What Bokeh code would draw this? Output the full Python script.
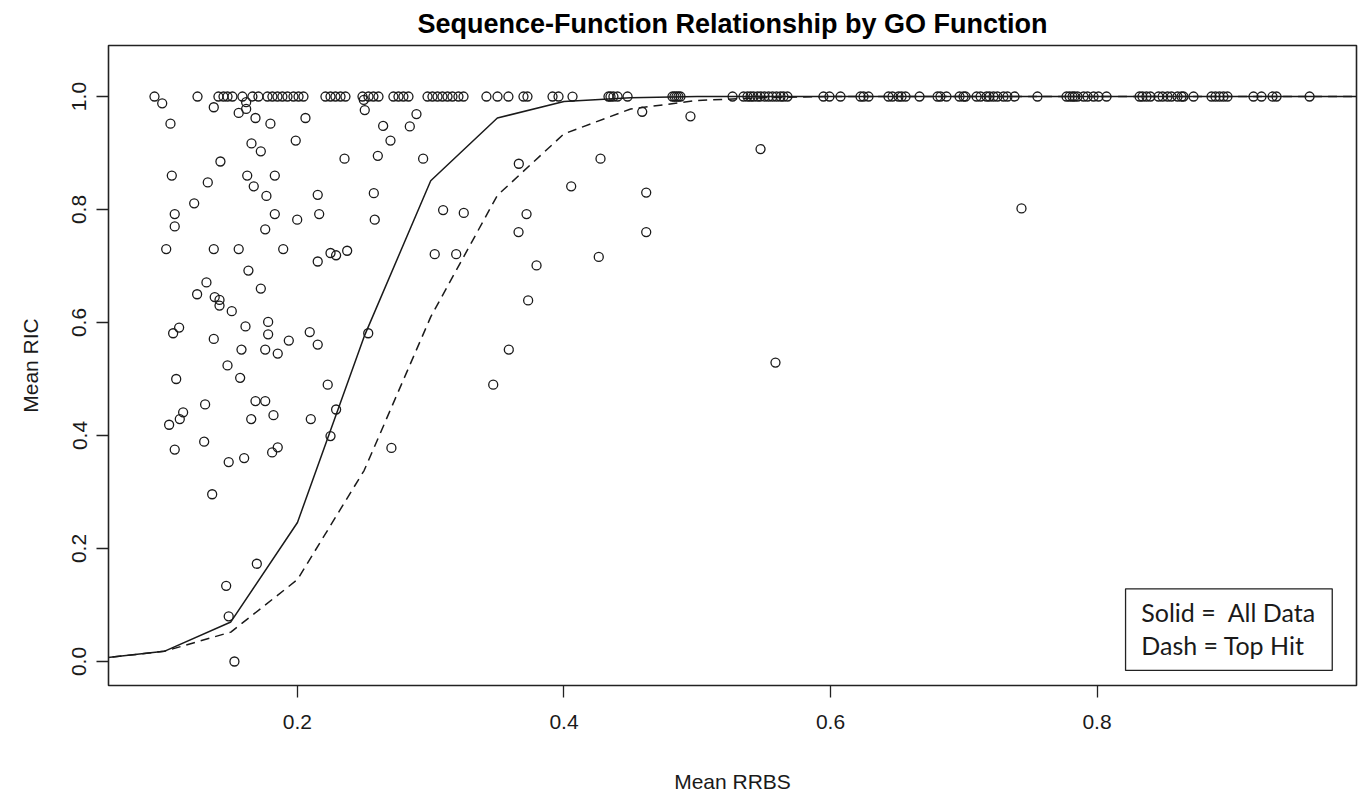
from bokeh.plotting import figure
from bokeh.models import Range1d, Label, BoxAnnotation, FixedTicker, PrintfTickFormatter
from bokeh.embed import file_html
from bokeh.resources import INLINE

# ---- data ----
# points sitting on Mean RIC = 1.0
top_rrbs = [0.0927, 0.1250, 0.1407, 0.1445, 0.1475, 0.1512, 0.1587, 0.1662, 0.1707, 0.1775,
            0.1812, 0.1850, 0.1887, 0.1925, 0.1970, 0.2008, 0.2045, 0.2210, 0.2248, 0.2285,
            0.2323, 0.2360, 0.2488, 0.2533, 0.2570, 0.2608, 0.2720, 0.2758, 0.2795, 0.2833,
            0.2976, 0.3013, 0.3051, 0.3088, 0.3126, 0.3163, 0.3208, 0.3246, 0.3418, 0.3501,
            0.3583, 0.3696, 0.3726, 0.3914, 0.3959, 0.4064, 0.4334, 0.4349, 0.4371, 0.4402,
            0.4477, 0.4814, 0.4829, 0.4844, 0.4859, 0.4874, 0.5265, 0.5347, 0.5377, 0.5400,
            0.5422, 0.5452, 0.5475, 0.5505, 0.5535, 0.5565, 0.5595, 0.5625, 0.5647, 0.5677,
            0.5947, 0.5992, 0.6075, 0.6225, 0.6248, 0.6285, 0.6435, 0.6465, 0.6510, 0.6533,
            0.6563, 0.6668, 0.6803, 0.6825, 0.6870, 0.6968, 0.6998, 0.7013, 0.7096, 0.7126,
            0.7171, 0.7193, 0.7223, 0.7253, 0.7298, 0.7328, 0.7381, 0.7553, 0.7771, 0.7794,
            0.7816, 0.7831, 0.7854, 0.7899, 0.7929, 0.7974, 0.8011, 0.8071, 0.8319, 0.8341,
            0.8371, 0.8401, 0.8461, 0.8492, 0.8529, 0.8559, 0.8604, 0.8634, 0.8649, 0.8724,
            0.8859, 0.8889, 0.8919, 0.8949, 0.8979, 0.9174, 0.9234, 0.9317, 0.9347, 0.9595]
top_ric = [1.0, 1.0, 1.0, 1.0, 1.0, 1.0, 1.0, 1.0, 1.0, 1.0,
           1.0, 1.0, 1.0, 1.0, 1.0, 1.0, 1.0, 1.0, 1.0, 1.0,
           1.0, 1.0, 1.0, 1.0, 1.0, 1.0, 1.0, 1.0, 1.0, 1.0,
           1.0, 1.0, 1.0, 1.0, 1.0, 1.0, 1.0, 1.0, 1.0, 1.0,
           1.0, 1.0, 1.0, 1.0, 1.0, 1.0, 1.0, 1.0, 1.0, 1.0,
           1.0, 1.0, 1.0, 1.0, 1.0, 1.0, 1.0, 1.0, 1.0, 1.0,
           1.0, 1.0, 1.0, 1.0, 1.0, 1.0, 1.0, 1.0, 1.0, 1.0,
           1.0, 1.0, 1.0, 1.0, 1.0, 1.0, 1.0, 1.0, 1.0, 1.0,
           1.0, 1.0, 1.0, 1.0, 1.0, 1.0, 1.0, 1.0, 1.0, 1.0,
           1.0, 1.0, 1.0, 1.0, 1.0, 1.0, 1.0, 1.0, 1.0, 1.0,
           1.0, 1.0, 1.0, 1.0, 1.0, 1.0, 1.0, 1.0, 1.0, 1.0,
           1.0, 1.0, 1.0, 1.0, 1.0, 1.0, 1.0, 1.0, 1.0, 1.0,
           1.0, 1.0, 1.0, 1.0, 1.0, 1.0, 1.0, 1.0, 1.0, 1.0]

# remaining points
other_rrbs = [0.0985, 0.1372, 0.1559, 0.1615, 0.1615, 0.1685, 0.1797, 0.2060, 0.1047, 0.2505,
              0.2498, 0.2643, 0.2698, 0.2603, 0.2353, 0.1987, 0.1655, 0.1725, 0.1422, 0.1057,
              0.1327, 0.1623, 0.1830, 0.1672, 0.1767, 0.2152, 0.2573, 0.1225, 0.1079, 0.1079,
              0.1830, 0.1998, 0.2163, 0.2580, 0.1758, 0.1015, 0.1372, 0.1559, 0.1893, 0.2248,
              0.2290, 0.2373, 0.2152, 0.1632,
              0.1317, 0.1725, 0.1247, 0.1379, 0.1415, 0.1415, 0.1507, 0.1112, 0.1067, 0.1372,
              0.1610, 0.1780, 0.1780, 0.1935, 0.2092, 0.2152, 0.1580, 0.1758, 0.1852, 0.1475,
              0.1570, 0.1090, 0.2227, 0.2531, 0.1307, 0.1685, 0.1758, 0.1142, 0.1117, 0.1037,
              0.1653, 0.1820, 0.2100, 0.2290, 0.2248, 0.1300, 0.1079, 0.1852, 0.1810, 0.2705,
              0.1484, 0.1600,
              0.1360, 0.1695, 0.1465, 0.1484, 0.1527,
              0.2893, 0.2843, 0.2943, 0.3661, 0.4274, 0.4587, 0.4949, 0.5475, 0.4054, 0.4617,
              0.3093, 0.3248, 0.3719, 0.3659, 0.4617, 0.3030, 0.3191, 0.3794, 0.4261,
              0.3731, 0.3586, 0.3469, 0.5587, 0.7433]
other_ric = [0.988, 0.981, 0.971, 0.978, 0.990, 0.962, 0.952, 0.962, 0.952, 0.976,
             0.994, 0.948, 0.922, 0.895, 0.890, 0.922, 0.917, 0.903, 0.885, 0.860,
             0.848, 0.860, 0.860, 0.841, 0.824, 0.826, 0.829, 0.811, 0.792, 0.770,
             0.792, 0.782, 0.792, 0.782, 0.765, 0.730, 0.730, 0.730, 0.730, 0.723,
             0.719, 0.727, 0.708, 0.692,
             0.671, 0.660, 0.650, 0.645, 0.640, 0.630, 0.620, 0.591, 0.581, 0.571,
             0.593, 0.601, 0.579, 0.568, 0.583, 0.561, 0.552, 0.552, 0.545, 0.524,
             0.502, 0.500, 0.490, 0.581, 0.455, 0.461, 0.461, 0.441, 0.429, 0.419,
             0.429, 0.436, 0.429, 0.446, 0.399, 0.389, 0.375, 0.379, 0.370, 0.378,
             0.353, 0.360,
             0.296, 0.173, 0.134, 0.080, 0.000,
             0.969, 0.947, 0.890, 0.881, 0.890, 0.973, 0.965, 0.907, 0.841, 0.830,
             0.799, 0.794, 0.792, 0.760, 0.760, 0.721, 0.721, 0.701, 0.716,
             0.639, 0.552, 0.490, 0.529, 0.802]

# fitted curves
curve_rrbs = [0.05, 0.10, 0.15, 0.20, 0.25, 0.30, 0.35, 0.40, 0.45, 0.50,
              0.55, 0.60, 0.65, 0.70, 0.75, 0.80, 0.85, 0.90, 0.95, 1.00]
all_data_ric = [0.005, 0.018, 0.070, 0.246, 0.575, 0.851, 0.962, 0.991, 0.998, 1.000,
                1.000, 1.000, 1.000, 1.000, 1.000, 1.000, 1.000, 1.000, 1.000, 1.000]
top_hit_ric = [0.005, 0.018, 0.052, 0.145, 0.338, 0.610, 0.825, 0.934, 0.978, 0.993,
               0.998, 1.000, 1.000, 1.000, 1.000, 1.000, 1.000, 1.000, 1.000, 1.000]

x_ticks = [0.2, 0.4, 0.6, 0.8]
y_ticks = [0.0, 0.2, 0.4, 0.6, 0.8, 1.0]

title_text = "Sequence-Function Relationship by GO Function"
legend_lines = ["Solid = \u00a0All Data", "Dash = Top Hit"]

# ---- figure ----
FONT = "Liberation Sans"
INK = "#1a1a1a"

p = figure(width=1358, height=796, output_backend="svg", toolbar_location=None,
           x_range=Range1d(0.0582, 0.9947), y_range=Range1d(-0.0425, 1.0903),
           min_border_left=108, min_border_right=2, min_border_top=45, min_border_bottom=111,
           background_fill_color="white", border_fill_color="white")

p.title.text = title_text
p.title.align = "center"
p.title.text_font = FONT
p.title.text_font_style = "bold"
p.title.text_font_size = "27px"
p.title.text_color = "black"
p.title.standoff = 13

p.grid.visible = False
p.outline_line_color = "#222222"
p.outline_line_width = 1.6

for ax in (p.xaxis[0], p.yaxis[0]):
    ax.axis_line_color = None
    ax.major_tick_line_color = "#222222"
    ax.major_tick_line_width = 1.3
    ax.major_tick_out = 12
    ax.major_tick_in = 0
    ax.minor_tick_line_color = None
    ax.major_label_text_font = FONT
    ax.major_label_text_font_size = "21px"
    ax.major_label_text_color = INK
    ax.axis_label_text_font = FONT
    ax.axis_label_text_font_size = "21px"
    ax.axis_label_text_font_style = "normal"
    ax.axis_label_text_color = INK
    ax.formatter = PrintfTickFormatter(format="%.1f")

p.xaxis[0].ticker = FixedTicker(ticks=x_ticks)
p.yaxis[0].ticker = FixedTicker(ticks=y_ticks)
p.xaxis[0].axis_label = "Mean RRBS"
p.yaxis[0].axis_label = "Mean RIC"
p.xaxis[0].major_label_standoff = 17
p.xaxis[0].axis_label_standoff = 38
p.yaxis[0].major_label_standoff = 10
p.yaxis[0].major_label_orientation = "parallel"
p.yaxis[0].axis_label_standoff = 28

# curves
p.line(curve_rrbs, all_data_ric, line_color=INK, line_width=1.5)
p.line(curve_rrbs, top_hit_ric, line_color=INK, line_width=1.5, line_dash="9 6")

# points
p.scatter(top_rrbs, top_ric, marker="circle", size=9, fill_color=None,
          line_color=INK, line_width=1.3)
p.scatter(other_rrbs, other_ric, marker="circle", size=9, fill_color=None,
          line_color=INK, line_width=1.3)

# legend-like box
box = BoxAnnotation(left=0.8214, right=0.9765, top=0.1287, bottom=-0.0159,
                    fill_color="white", fill_alpha=1.0, line_color="#222222",
                    line_width=1.3, line_alpha=1.0)
p.add_layout(box)
p.add_layout(Label(x=0.8332, y=0.0880, text=legend_lines[0], text_font="Lato",
                   text_font_size="25px", text_color=INK, text_baseline="alphabetic"))
p.add_layout(Label(x=0.8332, y=0.0300, text=legend_lines[1], text_font="Lato",
                   text_font_size="25px", text_color=INK, text_baseline="alphabetic"))

open("out.html", "w").write(file_html(p, INLINE))
